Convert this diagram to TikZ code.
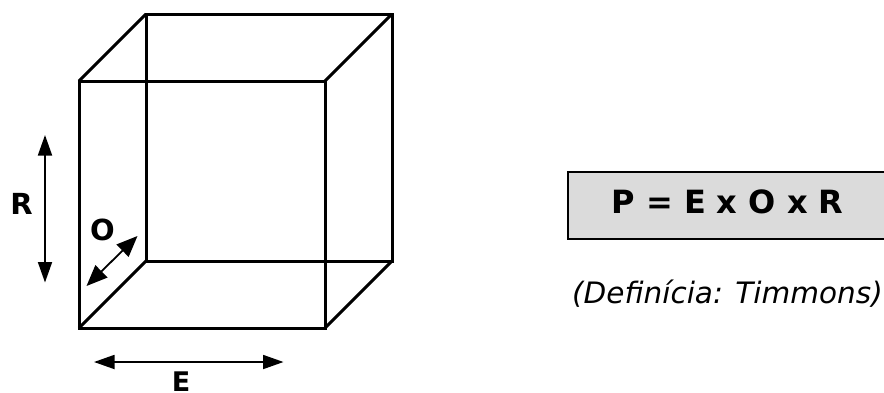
\documentclass[tikz,border=0pt]{standalone}
\usepackage{fontspec}
\setmainfont{DejaVu Sans}
\usetikzlibrary{arrows.meta}
\tikzset{
  edge/.style={line width=3pt,line join=miter},
  dim/.style={line width=1.8pt,{Triangle[width=14pt,length=20.5pt]}-{Triangle[width=14pt,length=20.5pt]}},
  dimo/.style={line width=1.8pt,{Triangle[width=17pt,length=21pt]}-{Triangle[width=17pt,length=21pt]}},
  lab/.style={font=\fontsize{29}{29}\selectfont\bfseries,inner sep=0pt,text=black},
}
\begin{document}
\begin{tikzpicture}[x=1pt,y=-1pt]
\useasboundingbox (0,0) rectangle (884,392);
\coordinate (a) at (79,81);
\coordinate (b) at (325,81);
\coordinate (c) at (325,328);
\coordinate (d) at (79,328);
\coordinate (e) at (146,14);
\coordinate (f) at (392,14);
\coordinate (g) at (392,261);
\coordinate (h) at (146,261);
\draw[edge] (a) -- (b) -- (c) -- (d) -- cycle;
\draw[edge] (e) -- (f) -- (g) -- (h) -- cycle;
\draw[edge] (a) -- (e) (b) -- (f) (c) -- (g) (d) -- (h);
\coordinate (r1) at (45,135);
\coordinate (r2) at (45,282.5);
\draw[dim] (r1) -- (r2);
\coordinate (e1) at (94,362);
\coordinate (e2) at (283.5,362);
\draw[dim] (e1) -- (e2);
\coordinate (o1) at (86.5,286);
\coordinate (o2) at (137.5,236);
\draw[dimo] (o1) -- (o2);
\node[lab] (lr) at (21.5,204) {R};
\node[lab] (lo) at (102.5,230) {O};
\node[lab,anchor=north,font=\fontsize{27}{27}\selectfont\bfseries] (le) at (181,371.5) {E};
\node[draw=black,line width=2pt,fill=black!14,minimum width=340pt,minimum height=67pt,anchor=north west] (box) at (567,171) {};
\node[lab,anchor=base,font=\fontsize{32}{32}\selectfont\bfseries] (eq) at (727.5,213.5) {P = E x O x R};
\node[anchor=base,inner sep=0pt,font=\fontsize{29.5}{29.5}\selectfont\itshape] (def) at (727.5,303) {(Definícia: Timmons)};
\end{tikzpicture}
\end{document}
